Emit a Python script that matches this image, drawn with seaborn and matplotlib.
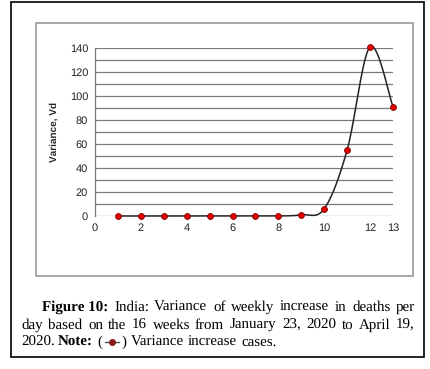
import numpy as np
import pandas as pd

import matplotlib
matplotlib.use('Agg')

import matplotlib.pyplot as plt
import matplotlib.patches as mpatches
import matplotlib.lines as mlines
from matplotlib import font_manager as fm

import seaborn as sns


# weekly variance of increase in deaths per day (India)
weeks = [1, 2, 3, 4, 5, 6, 7, 8, 9, 10, 11, 12, 13]
variance = [0, 0, 0, 0, 0, 0, 0, 0, 1, 6, 55, 141, 91]

xtick_vals = [0, 2, 4, 6, 8, 10, 12, 13]
ytick_vals = [0, 20, 40, 60, 80, 100, 120, 140]

caption_lines = [
    [("Figure 10:", True), ("India:", False), ("Variance", False), ("of", False), ("weekly", False),
     ("increase", False), ("in", False), ("deaths", False), ("per", False)],
    [("day", False), ("based", False), ("on", False), ("the", False), ("16", False), ("weeks", False),
     ("from", False), ("January", False), ("23,", False), ("2020", False), ("to", False),
     ("April", False), ("19,", False)],
    [("2020.", False), ("Note:", True), ("(", False), ("<marker>", False), (")", False),
     ("Variance", False), ("increase", False), ("cases.", False)],
]


def font_file(name):
    for f in fm.findSystemFonts():
        if f.split('/')[-1] == name:
            return f
    return None


def smooth(x, y, n = 20):
    # Excel style smoothed line (Catmull-Rom through the points)
    x = np.asarray(x, float)
    y = np.asarray(y, float)
    px = np.concatenate([[x[0]], x, [x[-1]]])
    py = np.concatenate([[y[0]], y, [y[-1]]])
    xs, ys = [], []
    t = np.linspace(0, 1, n)
    for i in range(1, len(px) - 2):
        for p, out in ((px, xs), (py, ys)):
            p0, p1, p2, p3 = p[i - 1], p[i], p[i + 1], p[i + 2]
            seg = 0.5 * ((2 * p1) + (-p0 + p2) * t + (2 * p0 - 5 * p1 + 4 * p2 - p3) * t ** 2
                         + (-p0 + 3 * p1 - 3 * p2 + p3) * t ** 3)
            out.extend(seg)
    return np.array(xs), np.array(ys)


def draw_caption(fig, W, H, size):
    renderer = fig.canvas.get_renderer()
    reg = font_file('LiberationSerif-Regular.ttf')
    bld = font_file('LiberationSerif-Bold.ttf')
    fp_reg = fm.FontProperties(fname = reg, size = size) if reg else fm.FontProperties(family = 'serif', size = size)
    fp_bld = fm.FontProperties(fname = bld, size = size) if bld else fm.FontProperties(family = 'serif', weight = 'bold', size = size)
    starts = [42, 21, 21]
    right = 415
    ys = [307, 325, 342]
    marker_w = 16
    s = fig.text(0, 0, "a b", fontproperties = fp_reg)
    s2 = fig.text(0, 0, "ab", fontproperties = fp_reg)
    space = s.get_window_extent(renderer).width - s2.get_window_extent(renderer).width
    s.remove()
    s2.remove()
    for li, runs in enumerate(caption_lines):
        objs = []
        widths = []
        for word, bold in runs:
            if word == "<marker>":
                objs.append(None)
                widths.append(marker_w)
                continue
            t = fig.text(0, 0, word, fontproperties = fp_bld if bold else fp_reg, va = 'baseline', color = 'black')
            objs.append(t)
            widths.append(t.get_window_extent(renderer).width)
        gaps = []
        for i in range(len(runs) - 1):
            a, b = runs[i][0], runs[i + 1][0]
            if a == "(" or b == ")" or a == "<marker>" or b == "<marker>":
                gaps.append(2)
            else:
                gaps.append(space)
        if li < len(caption_lines) - 1:
            free = right - starts[li] - sum(widths) - sum(gaps)
            nflex = sum(1 for g in gaps if g != 2)
            gaps = [g + free / nflex if g != 2 else g for g in gaps]
        x = starts[li]
        yb = 1 - (ys[li] + 4) / H
        yf = 1 - ys[li] / H
        for i, (obj, w) in enumerate(zip(objs, widths)):
            if obj is None:
                fig.add_artist(mlines.Line2D([(x + 1) / W, (x + w - 1) / W], [yf, yf], transform = fig.transFigure,
                                             color = '#505050', lw = 1))
                fig.add_artist(mlines.Line2D([(x + w / 2) / W], [yf], transform = fig.transFigure,
                                             color = '#8b1a1a', marker = 'o', markersize = 4, lw = 0))
            else:
                obj.set_position((round(x) / W, yb))
            x += w
            if i < len(gaps):
                x += gaps[i]


def main():
    sns.set_style('white')
    matplotlib.rcParams['text.hinting'] = 'no_hinting'
    matplotlib.rcParams['text.hinting_factor'] = 1
    sans = font_file('LiberationSans-Regular.ttf')
    sans_b = font_file('LiberationSans-Bold.ttf')
    tick_fp = fm.FontProperties(fname = sans, size = 8) if sans else fm.FontProperties(family = 'sans-serif', size = 8)
    lab_fp = fm.FontProperties(fname = sans_b, size = 7.5) if sans_b else fm.FontProperties(family = 'sans-serif', weight = 'bold', size = 7.5)

    W, H = 430, 369
    df = pd.DataFrame({"week": weeks, "variance": variance})

    fig = plt.figure(figsize = (W / 100, H / 100), dpi = 100)

    # outer frame and inner chart frame
    fig.add_artist(mpatches.Rectangle((11 / W, 1 - 357 / H), 413 / W, 355 / H, transform = fig.transFigure,
                                      fill = False, edgecolor = 'black', lw = 1.2))
    fig.add_artist(mpatches.Rectangle((36 / W, 1 - 276 / H), 377 / W, 253 / H, transform = fig.transFigure,
                                      fill = False, edgecolor = '#9a9a9a', lw = 1.2))

    ax = fig.add_axes([95 / W, 1 - 216 / H, 298 / W, 168 / H])

    xs, ys = smooth(df["week"], df["variance"])
    ax.plot(xs, ys, color = '#222222', lw = 1.1, clip_on = False, zorder = 3)
    sns.scatterplot(data = df, x = "week", y = "variance", ax = ax, color = '#e00000', edgecolor = '#800000',
                    s = 18, linewidth = 0.6, clip_on = False, zorder = 4)

    ax.set_xlim(0, 13)
    ax.set_ylim(0, 140)
    yt = np.arange(0, 141, 10)
    ax.set_yticks(yt)
    ax.set_yticklabels([str(v) if v in ytick_vals else "" for v in yt], fontproperties = tick_fp)
    ax.set_xticks(xtick_vals)
    ax.set_xticklabels([str(v) for v in xtick_vals], fontproperties = tick_fp)
    ax.grid(axis = 'y', color = '#7a7a7a', lw = 0.9)
    ax.set_axisbelow(True)
    for side in ['top', 'right', 'bottom']:
        ax.spines[side].set_visible(False)
    ax.spines['left'].set_color('#7a7a7a')
    ax.spines['left'].set_linewidth(0.9)
    ax.tick_params(axis = 'both', length = 0, colors = '#222222', pad = 5)
    ax.set_xlabel("")
    ax.set_ylabel("Variance, Vd", fontproperties = lab_fp, labelpad = 8)

    draw_caption(fig, W, H, 11)

    fig.savefig("out.png", dpi = 100)
    plt.close()


if __name__ == '__main__':
    main()
